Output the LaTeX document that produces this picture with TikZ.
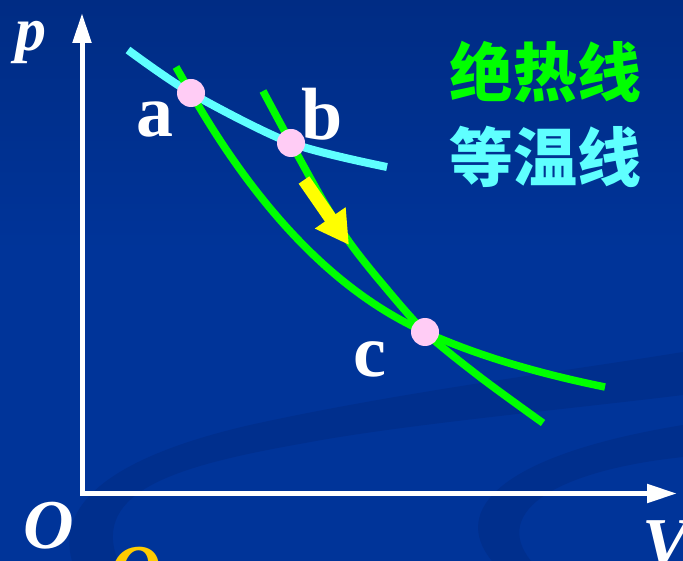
\documentclass[tikz,border=0pt]{standalone}
\usepackage{fontspec}
\setmainfont{Liberation Serif}
\newfontfamily\cjkfont{Noto Sans CJK SC}
\usetikzlibrary{arrows.meta}
\definecolor{bgtop}{RGB}{0,44,132}
\definecolor{bgmid}{RGB}{0,52,153}
\definecolor{swirl}{RGB}{0,47,141}
\definecolor{adiab}{RGB}{0,255,0}
\definecolor{isoth}{RGB}{95,255,255}
\definecolor{dotpink}{RGB}{255,204,245}
\definecolor{arrowyellow}{RGB}{255,255,0}
\definecolor{qgold}{RGB}{255,204,0}
\tikzset{
  axisline/.style={draw=white, line width=5pt, line join=miter},
  adiabline/.style={draw=adiab, line width=7.5pt},
  isoline/.style={draw=isoth, line width=8pt},
  statedot/.style={circle, fill=dotpink, draw=none, minimum size=28pt, inner sep=0pt},
  ptlabel/.style={text=white, inner sep=0pt, font=\fontsize{74}{74}\selectfont\bfseries},
  axlabel/.style={text=white, inner sep=0pt, font=\fontsize{70}{70}\selectfont\bfseries\itshape},
  cjklabel/.style={inner sep=0pt, font=\fontsize{64}{64}\selectfont\cjkfont\bfseries},
}
\begin{document}
\begin{tikzpicture}[x=1pt,y=-1pt]
\useasboundingbox (0,0) rectangle (683,561);
\clip (0,0) rectangle (683,561);
% background
\fill[top color=bgtop, bottom color=bgmid] (0,0) rectangle (683,250);
\fill[bgmid] (0,249) rectangle (683,561);
\fill[swirl] (72,561) .. controls (55,500) and (120,455) .. (250,425)
  .. controls (400,392) and (560,372) .. (683,352) -- (683,395)
  .. controls (560,410) and (400,425) .. (305,443)
  .. controls (180,465) and (90,490) .. (118,561) -- cycle;
\fill[swirl] (492,561) .. controls (450,510) and (500,455) .. (683,425)
  -- (683,457) .. controls (560,470) and (490,510) .. (531,561) -- cycle;
% axes
\coordinate (origin) at (82,493.5);
\coordinate (ytip) at (82,13);
\coordinate (xtip) at (677,493.5);
\draw[axisline, {Triangle[length=30pt,width=18pt]}-{Triangle[length=30pt,width=18pt]}] (ytip) -- (origin) -- (xtip);
% state points
\coordinate (pa) at (191,93);
\coordinate (pb) at (291,143);
\coordinate (pc) at (425,332);
\coordinate (aend0) at (176,67);
\coordinate (aend1) at (605,387);
\coordinate (bend0) at (263,91);
\coordinate (bend1) at (543,423);
% isotherm
\draw[isoline] plot[smooth] coordinates {(128,50) (pa) (pb) (387,167)};
% adiabats
\draw[adiabline] (aend0) -- (pa) .. controls (260,213) and (338,293) .. (pc)
  .. controls (476,355) and (536,373) .. (aend1);
\draw[adiabline] plot[smooth] coordinates {(bend0) (pb) (325,204) (350,243) (380,281) (pc) (480,377) (bend1)};
% yellow arrow
\coordinate (ys) at (304,180);
\coordinate (ye) at (349,245);
\draw[draw=arrowyellow, line width=13pt, -{Triangle[length=33pt,width=35pt]}] (ys) -- (ye);
% dots
\node[statedot] (a) at (pa) {};
\node[statedot] (b) at (pb) {};
\node[statedot] (c) at (pc) {};
% labels
\node[ptlabel, anchor=base west] (la) at (136,137) {a};
\node[ptlabel, anchor=base west] (lb) at (301,140) {b};
\node[ptlabel, anchor=base west] (lc) at (353,377) {c};
\node[axlabel, anchor=base west, font=\fontsize{62}{62}\selectfont\bfseries\itshape] (lp) at (15,51) {p};
\node[axlabel, anchor=base west] (lo) at (23,548) {O};
\node[axlabel, anchor=base west] (lv) at (642,566) {V};
\node[axlabel, text=qgold, anchor=base west] (lq) at (110,593) {Q};
\node[cjklabel, text=adiab] (t1) at (545,72) {绝热线};
\node[cjklabel, text=isoth] (t2) at (545,157) {等温线};
\end{tikzpicture}
\end{document}
